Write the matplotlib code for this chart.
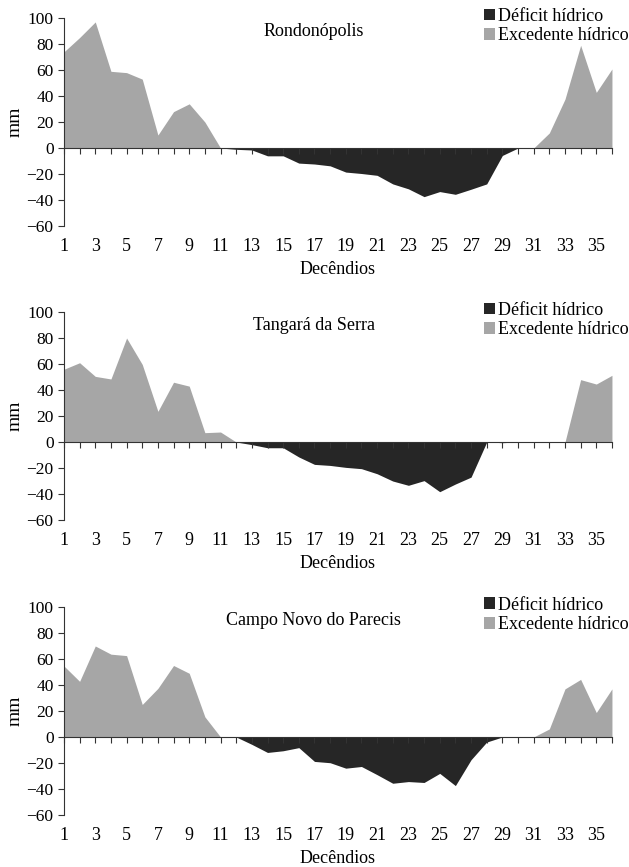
import numpy as np
import matplotlib.pyplot as plt
from matplotlib.patches import Patch

plt.rcParams['font.family'] = ['Liberation Serif', 'DejaVu Serif']

decendios = np.arange(1, 37)

# Rondonópolis
rond_exc = [74, 85, 97, 59, 58, 53, 10, 28, 34, 20, 0, 0, 0, 0, 0, 0, 0, 0,
            0, 0, 0, 0, 0, 0, 0, 0, 0, 0, 0, 0, 0, 11.6, 37.6, 79, 42.8, 60.8]
rond_def = [0, 0, 0, 0, 0, 0, 0, 0, 0, 0, 0, -1, -1.5, -6, -6, -11.6, -12.3, -13.7,
            -18.5, -19.6, -21, -27.6, -31.4, -37.4, -33.5, -35.6, -31.7, -27.6, -5.7, 0, 0, 0, 0, 0, 0, 0]

# Tangará da Serra
tang_exc = [56, 61, 50.5, 48.5, 80, 59.7, 23.6, 46, 43, 7.2, 7.7, 0, 0, 0, 0, 0, 0, 0,
            0, 0, 0, 0, 0, 0, 0, 0, 0, 0, 0, 0, 0, 0, 0, 48, 44.6, 51.3]
tang_def = [0, 0, 0, 0, 0, 0, 0, 0, 0, 0, 0, 0, -2, -4.4, -4.4, -11.5, -17.2, -18,
            -19.5, -20.5, -24.4, -30, -33.3, -29.7, -38.2, -32.3, -27, 0, -0.5, 0, 0, 0, 0, 0, 0, 0]

# Campo Novo do Parecis
camp_exc = [54.6, 42.8, 70, 63.7, 62.6, 25, 37.4, 55, 49, 15.5, 0, 0, 0, 0, 0, 0, 0, 0,
            0, 0, 0, 0, 0, 0, 0, 0, 0, 0, 0, 0, 0, 6.2, 37, 44.3, 18.8, 37]
camp_def = [0, 0, 0, 0, 0, 0, 0, 0, 0, 0, 0, 0, -5.7, -11.9, -10.6, -8.2, -18.8, -19.8,
            -24, -22.7, -29, -35.6, -34.3, -35, -28, -37.4, -17.5, -3.9, 0, 0, 0, 0, 0, 0, 0, 0]

stations = ['Rondonópolis', 'Tangará da Serra', 'Campo Novo do Parecis']
excess = [rond_exc, tang_exc, camp_exc]
deficit = [rond_def, tang_def, camp_def]

exc_color = '#a6a6a6'
def_color = '#262626'

fig = plt.figure(figsize=(6.29, 8.67), dpi=100)
bottoms = [0.7393, 0.4002, 0.0600]

for i in range(3):
    ax = fig.add_axes([0.1017, bottoms[i], 0.8712, 0.2399])
    ax.fill_between(decendios, excess[i], 0, color=exc_color, linewidth=0)
    ax.fill_between(decendios, deficit[i], 0, color=def_color, linewidth=0)

    ax.set_xlim(1, 36)
    ax.set_ylim(-60, 100)
    ax.set_yticks(np.arange(-60, 101, 20))
    ax.set_xticks(decendios)
    ax.set_xticklabels([str(d) if d % 2 == 1 else '' for d in decendios])

    ax.spines['top'].set_visible(False)
    ax.spines['right'].set_visible(False)
    ax.spines['bottom'].set_position(('data', 0))
    ax.spines['bottom'].set_color('#333333')
    ax.spines['left'].set_color('#333333')
    ax.tick_params(axis='x', direction='out', length=4, pad=61, labelsize=13, color='#333333')
    ax.tick_params(axis='y', direction='out', length=4, labelsize=12.5, color='#333333')

    ax.set_xlabel('Decêndios', fontsize=13, labelpad=4)
    ax.set_ylabel('mm', fontsize=14, labelpad=2)

    ax.text(0.456, 0.933, stations[i], transform=ax.transAxes, fontsize=13,
            ha='center', va='center')

    handles = [Patch(facecolor=def_color, label='Déficit hídrico'),
               Patch(facecolor=exc_color, label='Excedente hídrico')]
    ax.legend(handles=handles, loc='upper right', bbox_to_anchor=(1.031, 1.05),
              frameon=False, fontsize=13, handlelength=0.6, handleheight=0.6,
              handletextpad=0.2, borderpad=0, borderaxespad=0, labelspacing=0.15)

fig.savefig('out.png', dpi=100)
